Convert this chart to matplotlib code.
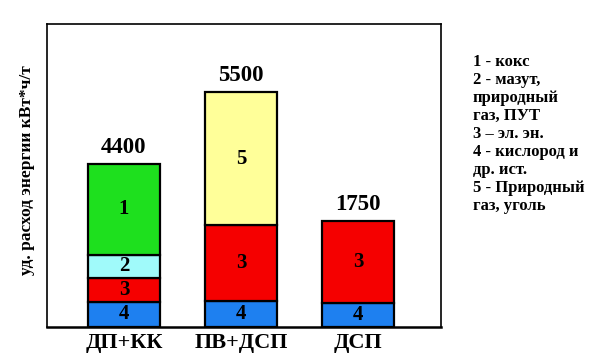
import matplotlib
matplotlib.use("Agg")
import matplotlib.pyplot as plt
import numpy as np

plt.rcParams['font.family'] = ['Liberation Serif', 'DejaVu Serif']
plt.rcParams['font.weight'] = 'bold'

categories = ["ДП+КК", "ПВ+ДСП", "ДСП"]
totals = ["4400", "5500", "1750"]

# drawn segment heights (bottom to top) as they appear in the picture
# component ids: 4 - oxygen etc, 3 - electricity, 2 - mazut, 1 - coke, 5 - natural gas/coal
seg_ids = [["4", "3", "2", "1"], ["4", "3", "5"], ["4", "3"]]
seg_heights = [[675, 650, 620, 2455], [700, 2050, 3590], [650, 2210]]

colors = {"1": "#1EE01E", "2": "#A0FAFA", "3": "#F50000", "4": "#1E80F0", "5": "#FFFF99"}
legend_lines = ["1 - кокс", "2 - мазут,", "природный", "газ, ПУТ", "3 – эл. эн.",
                "4 - кислород и", "др. ист.", "5 - Природный", "газ, уголь"]
ylabel = "уд. расход энергии кВт*ч/т"

fig = plt.figure(figsize=(5.91, 3.60), dpi=100)
ax = fig.add_axes([47/591, 1-327/360, (441-47)/591, (327-24)/360])

x = np.arange(len(categories))
width = 0.615
for i, (ids, hs) in enumerate(zip(seg_ids, seg_heights)):
    bottom = 0
    for sid, h in zip(ids, hs):
        ax.bar(x[i], h, width, bottom=bottom, color=colors[sid], edgecolor='black', linewidth=1.6, zorder=2)
        ax.text(x[i], bottom + h/2, sid, ha='center', va='center', fontsize=15, fontweight='bold',
                color='black', zorder=3)
        bottom += h
    ax.text(x[i], bottom + 170, totals[i], ha='center', va='bottom', fontsize=16.5, fontweight='bold')

ax.set_xlim(-0.658, 2.709)
ax.set_ylim(0, 8180)
ax.set_yticks([])
ax.set_xticks(x)
ax.set_xticklabels(categories, fontsize=16, fontweight='bold')
ax.tick_params(axis='x', length=0, pad=4)
for s in ax.spines.values():
    s.set_linewidth(1.2)
ax.spines['bottom'].set_linewidth(1.8)

fig.text(27/591, 1-170/360, ylabel, rotation=90, ha='center', va='center', fontsize=12.5, fontweight='bold')

y0 = 62
for k, line in enumerate(legend_lines):
    fig.text(473/591, 1-(y0 + k*18.0)/360, line, ha='left', va='center', fontsize=12, fontweight='bold')

fig.savefig("out.png", dpi=100)
